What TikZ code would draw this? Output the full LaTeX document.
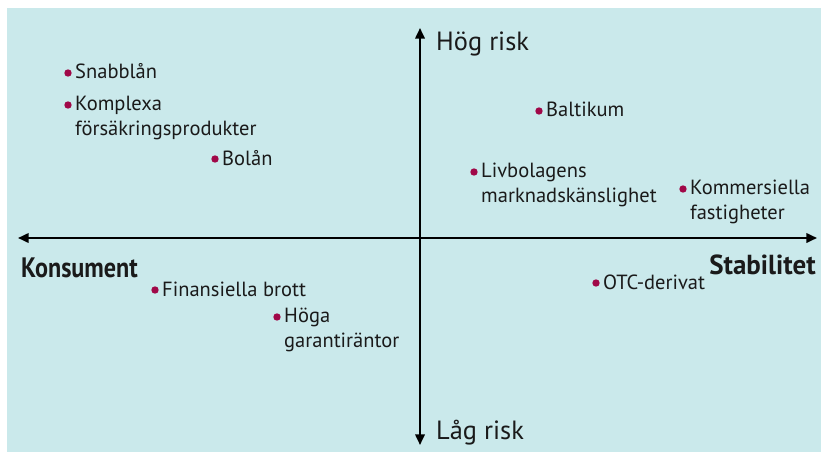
\documentclass[tikz,border=0pt]{standalone}
\usepackage{fontspec}
\setmainfont{PT Sans}
\usepackage{graphicx}
\usepackage{xcolor}
\usetikzlibrary{arrows.meta, positioning}
\definecolor{bgcyan}{HTML}{CAE9EB}
\definecolor{dotred}{HTML}{A00848}
\definecolor{ink}{HTML}{1A1A1A}
\tikzset{
  riskdot/.style={circle, fill=dotred, inner sep=0pt, minimum size=6.3pt},
  risklabel/.style={anchor=base west, align=left, text=ink, inner sep=0pt,
    font=\fontsize{17.5}{20.5}\selectfont},
  axislabel/.style={text=ink, inner sep=0pt, font=\fontsize{22.5}{27}\selectfont},
}
\begin{document}
\begin{tikzpicture}[x=0.03cm, y=-0.03cm]
        \useasboundingbox (0,0) rectangle (821,452);
        \fill[bgcyan] (7,8) rectangle (821,452);
        % axes
        \coordinate (left) at (18,238);
        \coordinate (right) at (817,238);
        \coordinate (top) at (420,28);
        \coordinate (bottom) at (420,445);
        \draw[line width=1.8pt, {Triangle[length=9pt,width=8pt]}-{Triangle[length=9pt,width=8pt]}] (left) -- (right);
        \draw[line width=1.8pt, {Triangle[length=9pt,width=8pt]}-{Triangle[length=9pt,width=8pt]}] (top) -- (bottom);
        \node[axislabel, anchor=west] (hog) at (436,44) {Hög risk};
        \node[axislabel, anchor=west] (lag) at (436,433) {Låg risk};
        \node[axislabel, anchor=west, font=\fontsize{24}{28}\selectfont\bfseries] (kons) at (21,268) {\scalebox{0.86}[1]{Konsument}};
        \node[axislabel, anchor=east, font=\fontsize{23.5}{28}\selectfont\bfseries] (stab) at (816,265) {\scalebox{0.98}[1]{Stabilitet}};
        % risks (two-line labels sit on the baseline of their last line)
        \node[riskdot] (snabb) at (68,73) {};
        \node[risklabel] at (75,79) {Snabblån};
        \node[riskdot] (kompl) at (68,105) {};
        \node[risklabel] at (75,135) {Komplexa\\försäkringsprodukter};
        \node[riskdot] (bolan) at (215,159) {};
        \node[risklabel] at (222,165) {Bolån};
        \node[riskdot] (balt) at (539,111) {};
        \node[risklabel] at (546,117) {Baltikum};
        \node[riskdot] (livb) at (474,172) {};
        \node[risklabel] at (481,202) {Livbolagens\\marknadskänslighet};
        \node[riskdot] (komm) at (683,189) {};
        \node[risklabel] at (690,219) {Kommersiella\\fastigheter};
        \node[riskdot] (otc) at (596,283) {};
        \node[risklabel] at (603,289) {OTC-derivat};
        \node[riskdot] (brott) at (155,290) {};
        \node[risklabel] at (162,296) {Finansiella brott};
        \node[riskdot] (hoga) at (277,317) {};
        \node[risklabel] at (284,347) {Höga\\garantiräntor};
\end{tikzpicture}
\end{document}
